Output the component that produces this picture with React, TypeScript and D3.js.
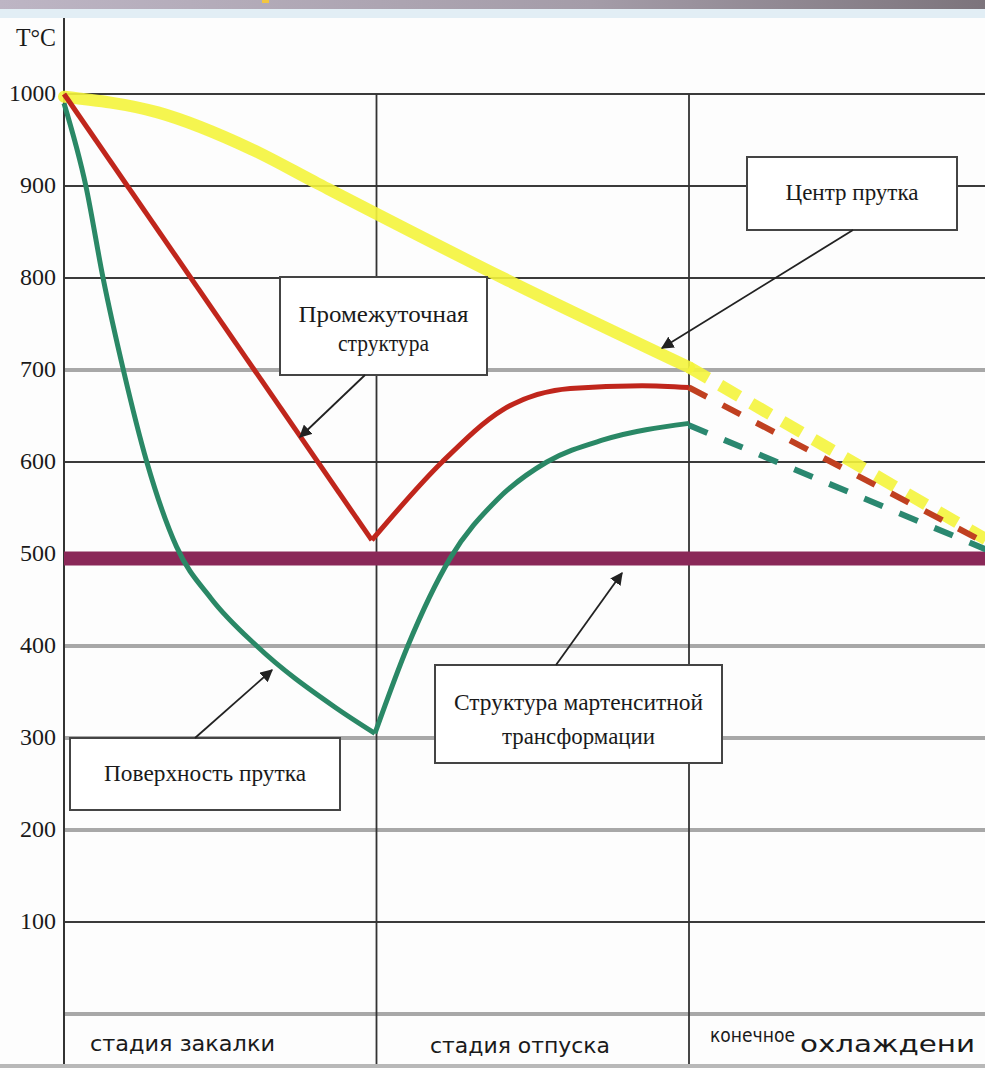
import React from 'react';
import * as d3 from 'd3';

const W = 985;
const H = 1070;

// temperature ticks (°C)
const tempTicks = [100, 200, 300, 400, 500, 600, 700, 800, 900, 1000];
const thickGrey = [0, 200, 300, 400, 700];
const stageBounds = [1, 2];

// t: stage units (0..3), T: temperature
const centerSolid: [number, number][] = [
  [0, 997], [0.3, 980], [0.6, 940], [0.81, 903], [1.405, 800], [2.0, 703],
];
const centerDashed: [number, number][] = [[2.0, 703], [2.95, 516]];

const midDown: [number, number][] = [[0, 1000], [0.985, 515]];
const midUp: [number, number][] = [
  [0.985, 515], [1.21, 600], [1.405, 657], [1.62, 680], [1.85, 683], [2.0, 681],
];
const midDashed: [number, number][] = [[2.0, 681], [2.95, 512]];

const surfDown: [number, number][] = [
  [0, 990], [0.07, 900], [0.125, 800], [0.19, 700], [0.265, 600], [0.36, 508],
  [0.47, 452], [0.617, 400], [0.865, 334], [0.995, 305],
];
const surfUp: [number, number][] = [
  [0.995, 305], [1.1, 400], [1.235, 495], [1.386, 559], [1.545, 600], [1.725, 624], [2.0, 642],
];
const surfDashed: [number, number][] = [[2.0, 640], [2.95, 505]];

const martensite = 495;

const x = d3.scaleLinear().domain([0, 3]).range([64, 1001.5]);
const y = d3.scaleLinear().domain([0, 1000]).range([1014, 94]);

const lineStraight = d3.line<[number, number]>().x((d) => x(d[0])).y((d) => y(d[1]));
const lineCurve = d3
  .line<[number, number]>()
  .x((d) => x(d[0]))
  .y((d) => y(d[1]))
  .curve(d3.curveMonotoneX);

const serif = '"Liberation Serif", "DejaVu Serif", serif';
const sans = '"DejaVu Sans", Verdana, sans-serif';

interface BoxLine {
  text: string;
  y: number;
  w: number;
}

interface BoxProps {
  x0: number;
  y0: number;
  x1: number;
  y1: number;
  lines: BoxLine[];
}

const NoteBox: React.FC<BoxProps> = ({ x0, y0, x1, y1, lines }) => (
  <g>
    <rect x={x0} y={y0} width={x1 - x0} height={y1 - y0} fill="#fff" stroke="#444" strokeWidth={2} />
    {lines.map((l, i) => (
      <text
        key={i}
        x={(x0 + x1) / 2}
        y={l.y}
        textAnchor="middle"
        fontFamily={serif}
        fontSize={24}
        fill="#1a1a1a"
        textLength={l.w}
        lengthAdjust="spacingAndGlyphs"
      >
        {l.text}
      </text>
    ))}
  </g>
);

const App: React.FC = () => {
  return (
    <svg
      width={W}
      height={H}
      style={{ position: 'absolute', left: 0, top: 0, background: '#fdfdfd' }}
    >
      <defs>
        <linearGradient id="topbar" x1="0%" x2="100%">
          <stop offset="0%" stopColor="#bdb5c4" />
          <stop offset="60%" stopColor="#a49ca8" />
          <stop offset="100%" stopColor="#7c747c" />
        </linearGradient>
        <marker id="arr" viewBox="0 0 10 10" refX="9" refY="5" markerWidth="7" markerHeight="7" orient="auto">
          <path d="M0,0 L10,5 L0,10 z" fill="#222" />
        </marker>
      </defs>

      {/* window chrome at the top */}
      <rect x={0} y={0} width={W} height={9} fill="url(#topbar)" />
      <rect x={0} y={9} width={W} height={9} fill="#e2eef5" />
      <rect x={262} y={0} width={7} height={3} fill="#f2c640" />

      {/* horizontal grid */}
      {[0, ...tempTicks].map((t) => (
        <line
          key={t}
          x1={64}
          x2={W}
          y1={y(t)}
          y2={y(t)}
          stroke={thickGrey.includes(t) ? '#a8a8a8' : '#3a3a3a'}
          strokeWidth={thickGrey.includes(t) ? 4 : 1.8}
        />
      ))}

      {/* vertical lines */}
      <line x1={64} x2={64} y1={18} y2={1065} stroke="#333" strokeWidth={2} />
      {stageBounds.map((s) => (
        <line key={s} x1={x(s)} x2={x(s)} y1={y(1000)} y2={1065} stroke="#333" strokeWidth={1.8} />
      ))}
      <line x1={0} x2={W} y1={1066} y2={1066} stroke="#b8b8b8" strokeWidth={4} />

      {/* y ticks */}
      {tempTicks.map((t) => (
        <text
          key={t}
          x={56}
          y={y(t) + 7}
          textAnchor="end"
          fontFamily={serif}
          fontSize={23}
          fill="#1a1a1a"
          textLength={t === 1000 ? 47 : 36}
          lengthAdjust="spacingAndGlyphs"
        >
          {t}
        </text>
      ))}
      <text x={16} y={46} fontFamily={serif} fontSize={25} fill="#1a1a1a" textLength={40} lengthAdjust="spacingAndGlyphs">
        T°C
      </text>

      {/* martensite transformation line */}
      <line x1={64} x2={W} y1={y(martensite)} y2={y(martensite)} stroke="#8a2858" strokeWidth={14} />

      {/* center of bar (yellow) */}
      <path d={lineCurve(centerSolid)!} fill="none" stroke="#f4f43c" strokeOpacity={0.9} strokeWidth={12} strokeLinecap="round" />
      <path d={lineStraight(centerDashed)!} fill="none" stroke="#f4f43c" strokeOpacity={0.9} strokeWidth={12} strokeDasharray="22 14" />

      {/* intermediate structure (red) */}
      <path d={lineStraight(midDown)!} fill="none" stroke="#c0261c" strokeWidth={5} />
      <path d={lineCurve(midUp)!} fill="none" stroke="#c0261c" strokeWidth={5} />
      <path d={lineStraight(midDashed)!} fill="none" stroke="#c04020" strokeWidth={6} strokeDasharray="20 18" />

      {/* surface of bar (green) */}
      <path d={lineCurve(surfDown)!} fill="none" stroke="#2a8866" strokeWidth={5} />
      <path d={lineCurve(surfUp)!} fill="none" stroke="#2a8866" strokeWidth={5} />
      <path d={lineStraight(surfDashed)!} fill="none" stroke="#2a8870" strokeWidth={6} strokeDasharray="20 18" />

      {/* annotation boxes */}
      <NoteBox
        x0={280} y0={277} x1={487} y1={375}
        lines={[{ text: 'Промежуточная', y: 322, w: 170 }, { text: 'структура', y: 351, w: 91 }]}
      />
      <line x1={365} y1={375} x2={300} y2={437} stroke="#222" strokeWidth={1.8} markerEnd="url(#arr)" />

      <NoteBox x0={747} y0={157} x1={957} y1={230} lines={[{ text: 'Центр прутка', y: 200, w: 133 }]} />
      <line x1={853} y1={230} x2={662} y2={348} stroke="#222" strokeWidth={1.8} markerEnd="url(#arr)" />

      <NoteBox x0={70} y0={738} x1={340} y1={810} lines={[{ text: 'Поверхность прутка', y: 781, w: 202 }]} />
      <line x1={195} y1={738} x2={272} y2={670} stroke="#222" strokeWidth={1.8} markerEnd="url(#arr)" />

      <NoteBox
        x0={435} y0={665} x1={722} y1={763}
        lines={[{ text: 'Структура мартенситной', y: 710, w: 249 }, { text: 'трансформации', y: 744, w: 153 }]}
      />
      <line x1={556} y1={665} x2={622} y2={573} stroke="#222" strokeWidth={1.8} markerEnd="url(#arr)" />

      {/* stage labels */}
      <text x={90} y={1051} fontFamily={sans} fontSize={22} fill="#1a1a1a" textLength={185} lengthAdjust="spacingAndGlyphs">
        стадия закалки
      </text>
      <text x={430} y={1053} fontFamily={sans} fontSize={22} fill="#1a1a1a" textLength={180} lengthAdjust="spacingAndGlyphs">
        стадия отпуска
      </text>
      <text x={710} y={1042} fontFamily={sans} fontSize={19} fill="#1a1a1a" textLength={85} lengthAdjust="spacingAndGlyphs">
        конечное
      </text>
      <text x={800} y={1052} fontFamily={sans} fontSize={23} fill="#1a1a1a" textLength={175} lengthAdjust="spacingAndGlyphs">
        охлаждени
      </text>
    </svg>
  );
};

export default App;
